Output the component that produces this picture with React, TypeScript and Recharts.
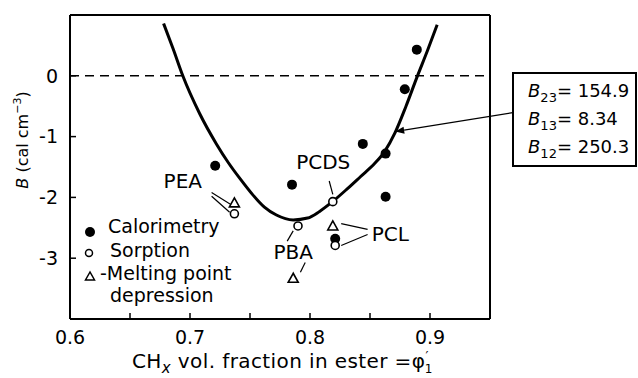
import React from 'react'
import { ScatterChart, Scatter, XAxis, YAxis, ReferenceLine, ReferenceDot } from 'recharts'

// fitted curve
const curveX = [0.678, 0.686, 0.694, 0.708, 0.722, 0.732, 0.742, 0.752, 0.762, 0.772, 0.786, 0.798, 0.808, 0.82, 0.831, 0.842, 0.854, 0.862, 0.871, 0.88, 0.889, 0.898, 0.906]
const curveY = [0.86, 0.44, 0.0, -0.62, -1.12, -1.43, -1.7, -1.95, -2.16, -2.29, -2.37, -2.34, -2.23, -2.05, -1.86, -1.66, -1.44, -1.25, -0.93, -0.5, -0.03, 0.42, 0.84]

const calorimetryX = [0.721, 0.785, 0.889, 0.879, 0.844, 0.863, 0.863, 0.821]
const calorimetryY = [-1.48, -1.79, 0.43, -0.22, -1.12, -1.28, -1.99, -2.68]

const sorptionX = [0.737, 0.79, 0.819, 0.821]
const sorptionY = [-2.27, -2.47, -2.07, -2.79]

const meltingX = [0.737, 0.786, 0.819]
const meltingY = [-2.09, -3.33, -2.47]

const xTicks = [0.6, 0.65, 0.7, 0.75, 0.8, 0.85, 0.9]
const yTicks = [-3, -2, -1, 0]

const polymerNames = ['PEA', 'PCDS', 'PBA', 'PCL']
const polymerLabelX = [0.694, 0.811, 0.786, 0.867]
const polymerLabelY = [-1.73, -1.42, -2.89, -2.6]

// leader lines from labels to points: [x1, y1, x2, y2]
const leaders = [
  [0.718, -1.92, 0.734, -2.115],
  [0.718, -1.98, 0.733, -2.245],
  [0.816, -1.73, 0.819, -1.95],
  [0.786, -2.55, 0.781, -2.72],
  [0.796, -3.07, 0.792, -3.23],
  [0.826, -2.43, 0.848, -2.525],
  [0.826, -2.79, 0.848, -2.61],
]

// arrow from parameter box to the curve
const arrowFrom = [0.969, -0.607]
const arrowTo = [0.871, -0.918]

const paramSubs = ['23', '13', '12']
const paramValues = ['154.9', '8.34', '250.3']

const FONT = '"DejaVu Sans", sans-serif'

const toPoints = (xs: number[], ys: number[]) => xs.map((x, i) => ({ x, y: ys[i] }))

const curve = toPoints(curveX, curveY)
const calorimetry = toPoints(calorimetryX, calorimetryY)
const sorption = toPoints(sorptionX, sorptionY)
const melting = toPoints(meltingX, meltingY)

const FilledDot = (p: any) => <circle cx={p.cx} cy={p.cy} r={5} fill="#000" />
const OpenDot = (p: any) => (
  <circle cx={p.cx} cy={p.cy} r={4} fill="#fff" stroke="#000" strokeWidth={1.6} />
)
const Triangle = (p: any) => (
  <polygon
    points={`${p.cx},${p.cy - 5} ${p.cx - 5},${p.cy + 4} ${p.cx + 5},${p.cy + 4}`}
    fill="#fff"
    stroke="#000"
    strokeWidth={1.6}
  />
)
const NoDot = () => <g />

const ArrowShape = (p: any) => {
  const { x1, y1, x2, y2 } = p
  const a = Math.atan2(y2 - y1, x2 - x1)
  const L = 9
  const W = 3.5
  const bx = x2 - L * Math.cos(a)
  const by = y2 - L * Math.sin(a)
  const px = -Math.sin(a) * W
  const py = Math.cos(a) * W
  return (
    <g>
      <line x1={x1} y1={y1} x2={bx} y2={by} stroke="#000" strokeWidth={1.2} />
      <polygon points={`${x2},${y2} ${bx + px},${by + py} ${bx - px},${by - py}`} fill="#000" />
    </g>
  )
}

const fmtX = (v: number) => (Math.round(v * 100) % 10 === 0 ? v.toFixed(1) : '')

export default function App() {
  const axisLine = { stroke: '#000', strokeWidth: 2 }
  const tickLine = { stroke: '#000', strokeWidth: 1.5 }
  return (
    <div style={{ position: 'absolute', left: 0, top: 0, width: 638, height: 378, fontFamily: FONT, background: '#fff' }}>
      <ScatterChart width={638} height={378} margin={{ top: 10, right: 138, bottom: 29, left: 30 }}>
        <XAxis
          dataKey="x"
          type="number"
          domain={[0.6, 0.95]}
          allowDataOverflow
          ticks={xTicks}
          tickFormatter={fmtX}
          height={30}
          tickSize={-6}
          tickMargin={18}
          axisLine={axisLine}
          tickLine={tickLine}
          tick={{ fontSize: 19, fill: '#000' }}
        />
        <XAxis
          xAxisId="top"
          orientation="top"
          dataKey="x"
          type="number"
          domain={[0.6, 0.95]}
          allowDataOverflow
          ticks={xTicks.slice(1)}
          height={5}
          tickSize={-6}
          tick={false}
          axisLine={axisLine}
          tickLine={tickLine}
        />
        <YAxis
          dataKey="y"
          type="number"
          domain={[-4, 1]}
          allowDataOverflow
          ticks={yTicks}
          width={40}
          tickSize={-6}
          tickMargin={18}
          axisLine={axisLine}
          tickLine={tickLine}
          tick={{ fontSize: 19, fill: '#000' }}
        />
        <YAxis
          yAxisId="r"
          orientation="right"
          dataKey="y"
          type="number"
          domain={[-4, 1]}
          allowDataOverflow
          ticks={yTicks}
          width={10}
          tickSize={-6}
          tick={false}
          axisLine={axisLine}
          tickLine={tickLine}
        />
        <ReferenceLine y={0} stroke="#000" strokeWidth={1.5} strokeDasharray="9 6" />
        {leaders.map((s, i) => (
          <ReferenceLine
            key={`ld-${i}`}
            segment={[{ x: s[0], y: s[1] }, { x: s[2], y: s[3] }]}
            stroke="#000"
            strokeWidth={1.2}
          />
        ))}
        <ReferenceLine
          segment={[{ x: arrowFrom[0], y: arrowFrom[1] }, { x: arrowTo[0], y: arrowTo[1] }]}
          ifOverflow="visible"
          shape={ArrowShape}
        />
        {polymerNames.map((name, i) => (
          <ReferenceDot
            key={name}
            x={polymerLabelX[i]}
            y={polymerLabelY[i]}
            r={0}
            stroke="none"
            fill="none"
            label={{ value: name, position: 'center', fontSize: 20, fill: '#000' }}
          />
        ))}
        <Scatter
          data={curve}
          line={{ stroke: '#000', strokeWidth: 3 }}
          lineJointType="monotoneX"
          shape={NoDot}
          isAnimationActive={false}
        />
        <Scatter data={calorimetry} shape={FilledDot} isAnimationActive={false} />
        <Scatter data={sorption} shape={OpenDot} isAnimationActive={false} />
        <Scatter data={melting} shape={Triangle} isAnimationActive={false} />
      </ScatterChart>

      <svg
        width={638}
        height={378}
        style={{ position: 'absolute', left: 0, top: 0, pointerEvents: 'none' }}
        fontFamily={FONT}
      >
        {/* legend */}
        <g fontSize={19} fill="#000">
          <circle cx={90} cy={232} r={5} fill="#000" />
          <text x={108} y={233}>Calorimetry</text>
          <circle cx={89} cy={253} r={3.5} fill="#fff" stroke="#000" strokeWidth={1.5} />
          <text x={110} y={257}>Sorption</text>
          <polygon points="90,272 85.5,280 94.5,280" fill="#fff" stroke="#000" strokeWidth={1.5} />
          <text x={100} y={280}>-Melting point</text>
          <text x={110} y={302}>depression</text>
        </g>

        {/* y axis title */}
        <text transform="translate(28,140) rotate(-90)" textAnchor="middle" fontSize={16} fill="#000">
          <tspan fontStyle="italic">B</tspan>
          <tspan> (cal cm</tspan>
          <tspan dy={-7} fontSize={11}>−3</tspan>
          <tspan dy={7}>)</tspan>
        </text>

        {/* x axis title */}
        <text x={132} y={368} fontSize={20} fill="#000" letterSpacing={0.4}>
          <tspan>CH</tspan>
          <tspan dy={5} fontSize={15} fontStyle="italic">x</tspan>
          <tspan dy={-5}> vol. fraction in ester =φ</tspan>
          <tspan dy={-8} fontSize={13}>′</tspan>
          <tspan dy={13} dx={-4} fontSize={12}>1</tspan>
        </text>

        {/* parameter box */}
        <rect x={513} y={73} width={123} height={93} fill="#fff" stroke="#000" strokeWidth={2} />
        {paramSubs.map((s, i) => (
          <text key={s} x={528} y={97 + i * 28} fontSize={18} fill="#000">
            <tspan fontStyle="italic">B</tspan>
            <tspan dy={5} fontSize={13}>{s}</tspan>
            <tspan dy={-5}>{'= ' + paramValues[i]}</tspan>
          </text>
        ))}
      </svg>
    </div>
  )
}
